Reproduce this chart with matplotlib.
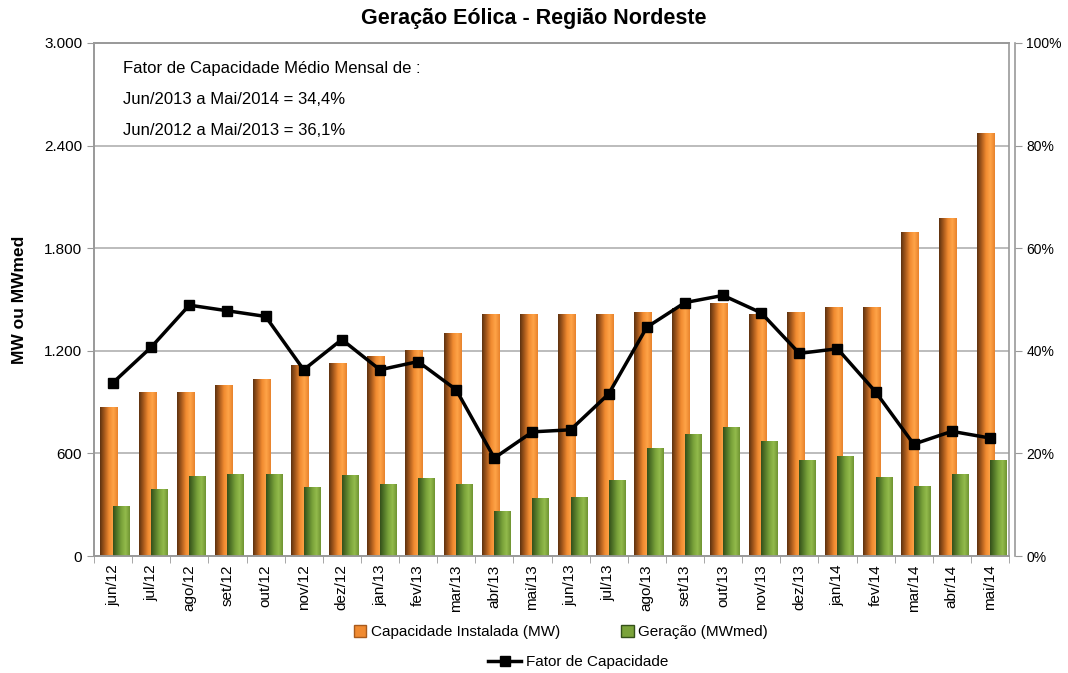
import numpy as np
import matplotlib
matplotlib.use('Agg')
import matplotlib.pyplot as plt
from matplotlib.colors import LinearSegmentedColormap
from matplotlib.lines import Line2D
from matplotlib.patches import Patch

plt.rcParams['font.family'] = ['Liberation Sans Narrow', 'Liberation Sans', 'DejaVu Sans']

meses = ['jun/12', 'jul/12', 'ago/12', 'set/12', 'out/12', 'nov/12', 'dez/12', 'jan/13',
         'fev/13', 'mar/13', 'abr/13', 'mai/13', 'jun/13', 'jul/13', 'ago/13', 'set/13',
         'out/13', 'nov/13', 'dez/13', 'jan/14', 'fev/14', 'mar/14', 'abr/14', 'mai/14']
capacidade = [868, 957, 957, 997, 1032, 1115, 1125, 1164, 1204, 1302, 1411, 1411,
              1411, 1411, 1425, 1450, 1474, 1415, 1425, 1455, 1455, 1894, 1973, 2471]
geracao = [289, 390, 466, 475, 479, 400, 469, 416, 452, 420, 261, 337,
           341, 442, 630, 713, 749, 671, 558, 584, 460, 406, 475, 558]
fator = [33.8, 40.7, 48.9, 47.8, 46.7, 36.3, 42.2, 36.3, 37.9, 32.4, 19.1, 24.2,
         24.6, 31.6, 44.6, 49.4, 50.8, 47.4, 39.5, 40.4, 32.0, 21.8, 24.3, 23.0]
y_ticks = [0, 600, 1200, 1800, 2400, 3000]
y_labels = ['0', '600', '1.200', '1.800', '2.400', '3.000']

cm_orange = LinearSegmentedColormap.from_list('lar', ['#5e3210', '#a85a1c', '#f08a30', '#ffa447', '#e8832c'])
cm_green = LinearSegmentedColormap.from_list('verde', ['#34501a', '#557a2a', '#7aa33a', '#93bb4c', '#6f9432'])
grad = np.linspace(0, 1, 64)[np.newaxis, :]

fig = plt.figure(figsize=(10.68, 6.73), dpi=100)
ax = fig.add_axes([94 / 1068, 1 - 556 / 673, 915 / 1068, 513 / 673])

x = np.arange(len(meses))
w_cap, w_ger = 0.46, 0.44
for i in x:
    ax.imshow(grad, extent=(i - 0.1 - w_cap / 2, i - 0.1 + w_cap / 2, 0, capacidade[i]),
              cmap=cm_orange, aspect='auto', zorder=2)
    ax.imshow(grad, extent=(i + 0.22 - w_ger / 2, i + 0.22 + w_ger / 2, 0, geracao[i]),
              cmap=cm_green, aspect='auto', zorder=3)

ax.set_xlim(-0.5, len(meses) - 0.5)
ax.set_ylim(0, 3000)
ax.set_yticks(y_ticks)
ax.set_yticklabels(y_labels, fontsize=11)
ax.set_xticks(x)
ax.set_xticklabels(meses, rotation=90, fontsize=11)
ax.set_xticks(np.arange(-0.5, len(meses)), minor=True)
ax.tick_params(axis='x', which='major', length=0, pad=6)
ax.tick_params(axis='x', which='minor', length=5, color='#999999')
ax.tick_params(axis='y', length=5, color='#999999')
ax.grid(axis='y', color='#b0b0b0', lw=1.2, zorder=0)
for s in ax.spines.values():
    s.set_color('#999999')
    s.set_linewidth(1.2)
ax.set_ylabel('MW ou MWmed', fontsize=12.5, fontweight='bold', family=['Liberation Sans', 'DejaVu Sans'], labelpad=12)

ax2 = ax.twinx()
ax2.plot(x, fator, color='black', lw=2.5, marker='s', ms=7, zorder=5)
ax2.set_ylim(0, 100)
ax2.set_yticks([0, 20, 40, 60, 80, 100])
ax2.set_yticklabels(['0%', '20%', '40%', '60%', '80%', '100%'], fontsize=11)
ax2.spines['right'].set_position(('outward', 4))
ax2.tick_params(axis='y', length=5, color='#999999')
for s in ax2.spines.values():
    s.set_color('#999999')
    s.set_linewidth(1.2)

ax.text(0.032, 0.951, 'Fator de Capacidade Médio Mensal de :', transform=ax.transAxes, fontsize=12, va='center')
ax.text(0.032, 0.889, 'Jun/2013 a Mai/2014 = 34,4%', transform=ax.transAxes, fontsize=12, va='center')
ax.text(0.032, 0.830, 'Jun/2012 a Mai/2013 = 36,1%', transform=ax.transAxes, fontsize=12, va='center')

fig.text(0.5, 0.972, 'Geração Eólica - Região Nordeste', ha='center', va='center',
         fontsize=15.5, fontweight='bold', family=['Liberation Sans', 'DejaVu Sans'])

h1 = [Patch(facecolor='#f08a30', edgecolor='#a85a1c'), Patch(facecolor='#7aa33a', edgecolor='#34501a')]
fig.legend(h1, ['Capacidade Instalada (MW)', 'Geração (MWmed)'], ncol=2, frameon=False,
           loc='center', bbox_to_anchor=(561 / 1068, 1 - 632 / 673), fontsize=11,
           handlelength=0.8, handleheight=0.8, handletextpad=0.3, columnspacing=4)
h2 = [Line2D([0], [0], color='black', lw=2.5, marker='s', ms=7)]
fig.legend(h2, ['Fator de Capacidade'], frameon=False, loc='center',
           bbox_to_anchor=(578 / 1068, 1 - 662 / 673), fontsize=11, handlelength=2.2, handletextpad=0.3)

fig.savefig('out.png', dpi=100)
